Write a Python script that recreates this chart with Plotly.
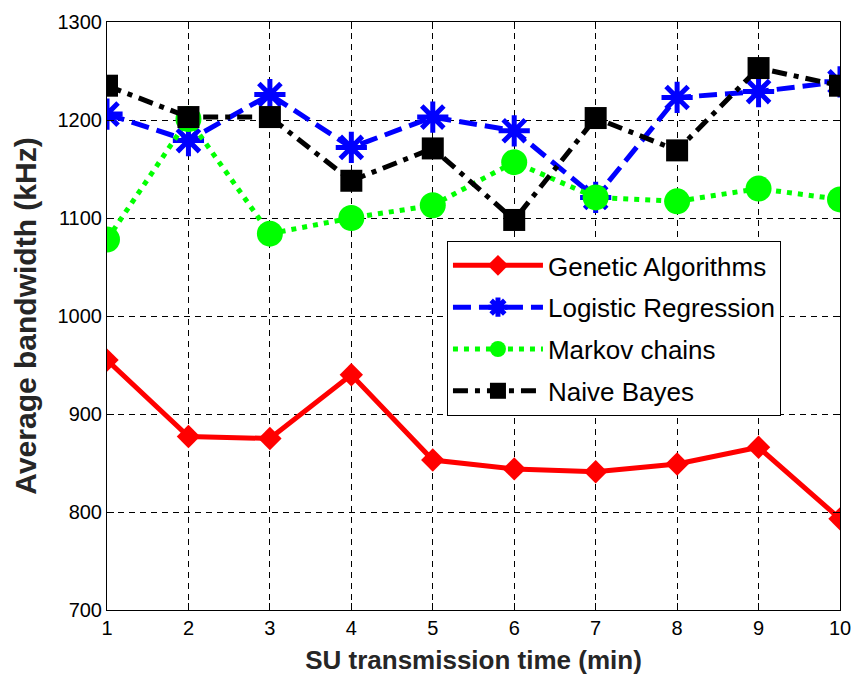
import plotly.graph_objects as go

x_vals = [1, 2, 3, 4, 5, 6, 7, 8, 9, 10]
genetic = [955, 877, 875, 940, 853, 844, 841, 849, 866, 793]
logistic = [1206, 1179, 1226, 1172, 1203, 1189, 1121, 1223, 1229, 1239]
markov = [1078, 1201, 1084, 1100, 1113, 1157, 1121, 1117, 1130, 1119]
naive = [1235, 1203, 1203, 1138, 1171, 1098, 1202, 1169, 1253, 1235]
series_names = ["Genetic Algorithms", "Logistic Regression", "Markov chains", "Naive Bayes"]
y_ticks = [700, 800, 900, 1000, 1100, 1200, 1300]

fig = go.Figure()
fig.add_trace(go.Scatter(x=x_vals, y=genetic, name=series_names[0], mode="lines+markers",
                         legendgroup="g1",
                         line=dict(color="#ff0000", width=5),
                         marker=dict(symbol="diamond", size=18, color="#ff0000")))
fig.add_trace(go.Scatter(x=x_vals, y=logistic, name=series_names[1], mode="lines+markers",
                         legendgroup="g2",
                         line=dict(color="#0000ff", width=5, dash="18px,8px"),
                         marker=dict(symbol="asterisk-open", size=26, color="#0000ff",
                                     line=dict(color="#0000ff", width=5))))
fig.add_trace(go.Scatter(x=x_vals, y=markov, name=series_names[2], mode="lines+markers",
                         legendgroup="g3",
                         line=dict(color="#00ff00", width=5, dash="5px,6px"),
                         marker=dict(symbol="circle", size=26, color="#00ff00")))
fig.add_trace(go.Scatter(x=x_vals, y=naive, name=series_names[3], mode="lines+markers",
                         legendgroup="g4",
                         line=dict(color="#000000", width=5, dash="15px,7px,5px,7px"),
                         marker=dict(symbol="square", size=22, color="#000000")))

axis_common = dict(
    showline=True, linecolor="black", linewidth=1, mirror="allticks",
    ticks="inside", ticklen=7, tickcolor="black", tickwidth=1,
    showgrid=True, gridcolor="#000000", gridwidth=1, griddash="6px,5px",
    zeroline=False, automargin=False,
    tickfont=dict(family="Liberation Sans, Arial", size=20, color="black"),
)

fig.update_xaxes(range=[1, 10], tickvals=x_vals,
                 title=dict(text="<b>SU transmission time (min)</b>",
                            font=dict(family="Liberation Sans, Arial", size=26, color="#262626"),
                            standoff=12),
                 **axis_common)
fig.update_yaxes(range=[700, 1300], tickvals=y_ticks,
                 title=dict(text="<b>Average bandwidth (kHz)</b>",
                            font=dict(family="Liberation Sans, Arial", size=30, color="#262626"),
                            standoff=12),
                 **axis_common)

fig.update_layout(
    width=855, height=684,
    margin=dict(l=107, r=15, t=22, b=74),
    paper_bgcolor="white", plot_bgcolor="white",
    legend=dict(x=0.4638, y=0.6276, xanchor="left", yanchor="top",
                bgcolor="white", bordercolor="black", borderwidth=1,
                font=dict(family="Liberation Sans, Arial", size=26, color="black"),
                traceorder="grouped", tracegroupgap=5, itemwidth=90),
    showlegend=True,
)

fig.write_html("out.html")
